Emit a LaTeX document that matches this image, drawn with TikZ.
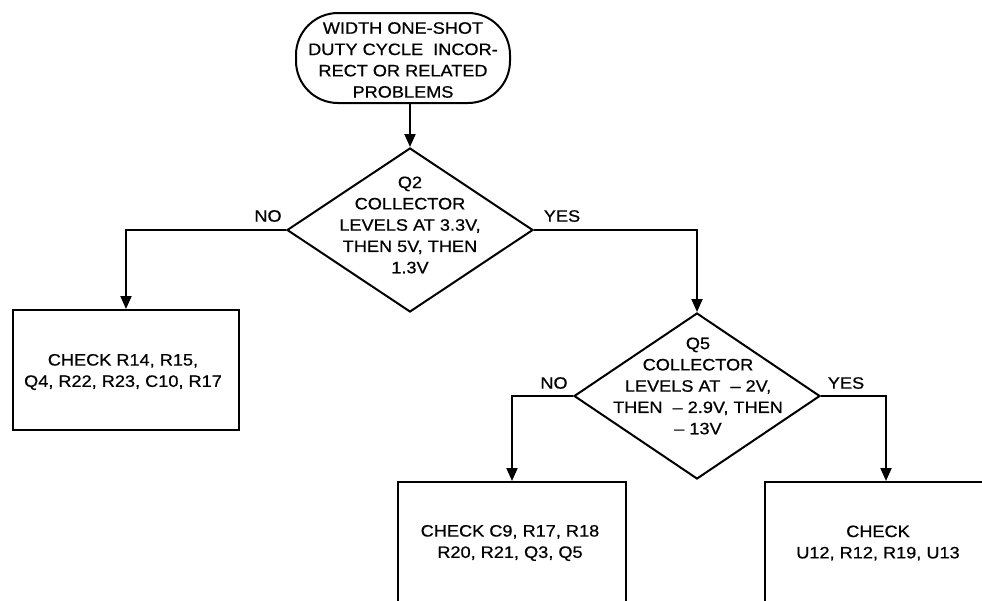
\documentclass[tikz,border=0pt]{standalone}
\usepackage{fontspec}
\setmainfont{Liberation Sans}[FakeStretch=1.1,FakeBold=0.6]
\usetikzlibrary{shapes.geometric,arrows.meta}
\tikzset{
  line/.style={line width=2pt, draw=black},
  arr/.style={line, -{Triangle[length=13pt,width=11pt]}},
  dia/.style={diamond, line, inner sep=0pt, minimum width=246pt, minimum height=164pt},
  boxn/.style={rectangle, line, inner sep=0pt},
  txt/.style={align=center, font=\fontsize{16.5}{21.3}\selectfont, inner sep=0pt},
  yn/.style={font=\fontsize{16.5}{20}\selectfont, inner sep=0pt},
}
\begin{document}
\begin{tikzpicture}[x=1pt,y=-1pt]
\clip (0,0) rectangle (982,600);
\fill[white] (0,0) rectangle (982,600);
% start terminal
\node[boxn, rounded corners=42pt, minimum width=214pt, minimum height=90pt] (start) at (403,58) {};
\node[txt] (t0) at (403,60) {WIDTH ONE-SHOT\\DUTY CYCLE\ \ INCOR-\\RECT OR RELATED\\PROBLEMS};
% decision 1
\node[dia] (d1) at (410,230) {};
\node[txt] (t1) at (410,225) {Q2\\COLLECTOR\\LEVELS AT 3.3V,\\THEN 5V, THEN\\1.3V};
% box 1
\node[boxn, minimum width=226pt, minimum height=120pt] (b1) at (126,370) {};
\node[txt] (t2) at (123,372) {CHECK R14, R15,\\Q4, R22, R23, C10, R17};
% decision 2
\node[dia, minimum height=166pt] (d2) at (697,396) {};
\node[txt] (t3) at (698,386) {Q5\\COLLECTOR\\LEVELS AT\ \ – 2V,\\THEN\ \ – 2.9V, THEN\\– 13V};
% box 2
\node[boxn, minimum width=228pt, minimum height=160pt] (b2) at (512,562) {};
\node[txt] (t4) at (510,543) {CHECK C9, R17, R18\\R20, R21, Q3, Q5};
% box 3
\node[boxn, minimum width=242pt, minimum height=160pt] (b3) at (886,562) {};
\node[txt] (t5) at (878,543) {CHECK\\U12, R12, R19, U13};
% connectors
\draw[arr] (start.south -| d1.north) -- (d1.north);
\draw[arr] (d1.west) -| (b1.north);
\draw[arr] (d1.east) -| (d2.north);
\draw[arr] (d2.west) -| (b2.north);
\draw[arr] (d2.east) -| (b3.north);
% labels
\node[yn] (no1) at (268,216) {NO};
\node[yn] (yes1) at (562,216) {YES};
\node[yn] (no2) at (554,383) {NO};
\node[yn] (yes2) at (846,383) {YES};
\end{tikzpicture}
\end{document}
